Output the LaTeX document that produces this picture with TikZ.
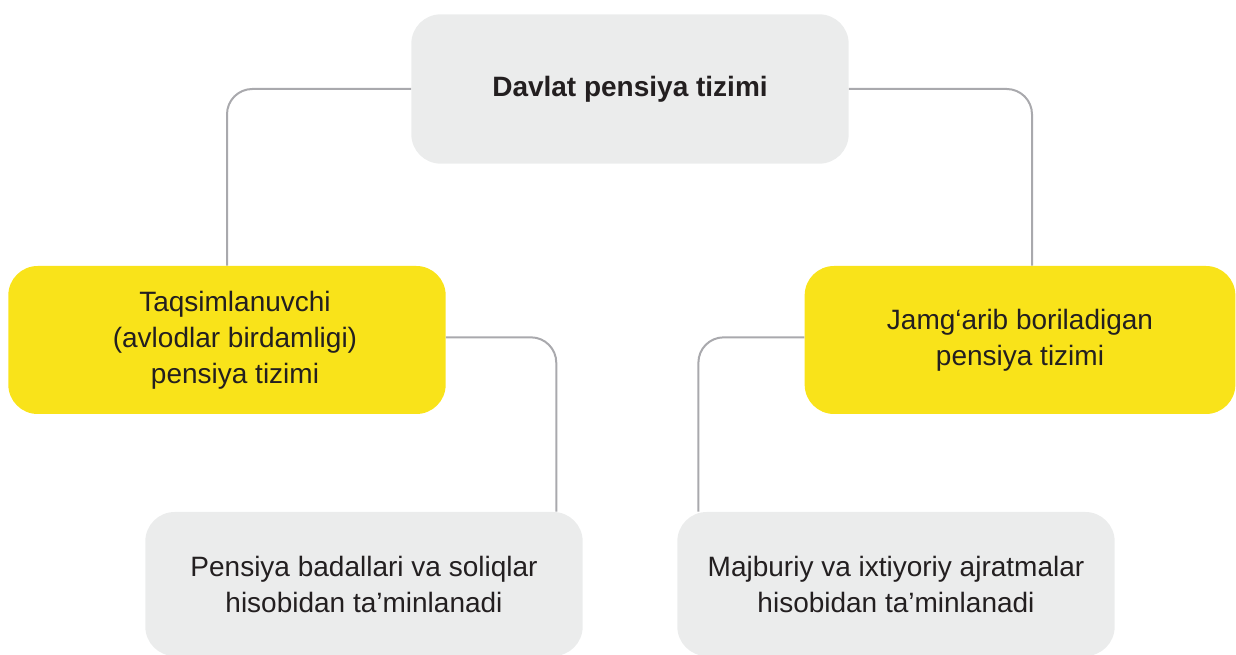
\documentclass[tikz,border=0pt]{standalone}
\usepackage{fontspec}
\setmainfont{Liberation Sans}
\definecolor{boxgray}{HTML}{EBECEC}
\definecolor{boxyellow}{HTML}{F9E31A}
\definecolor{linegray}{HTML}{A9A9AD}
\definecolor{inkblack}{HTML}{231F20}
\tikzstyle{every node}=[rounded corners=22pt, align=center, inner sep=0pt, text=inkblack, font={\fontsize{21}{27}\selectfont}]
\tikzstyle{greybox}=[fill=boxgray, minimum width=328pt, minimum height=108pt]
\tikzstyle{yellowbox}=[fill=boxyellow, minimum width=328pt, minimum height=111pt]
\tikzstyle{link}=[draw=linegray, line width=1.5pt, rounded corners=19pt]

\begin{document}
\begin{tikzpicture}[x=0.75pt, y=-0.75pt]
    \useasboundingbox (0,0) rectangle (1236,655);
    \node [greybox, minimum height=112pt] (davlat) at (630,89) {\raisebox{-4pt}{\bfseries Davlat pensiya tizimi}};
    \node [yellowbox] (taqsim) at (227,340) {\hspace*{12pt}Taqsimlanuvchi\\\hspace*{12pt}(avlodlar birdamligi)\\\hspace*{12pt}pensiya tizimi};
    \node [yellowbox, minimum width=323pt] (jamgarib) at (1020,340) {Jamg‘arib boriladigan\\pensiya tizimi};
    \node [greybox] (badal) at (364,584) {Pensiya badallari va soliqlar\\hisobidan ta’minlanadi};
    \node [greybox] (ajratma) at (896,584) {Majburiy va ixtiyoriy ajratmalar\\hisobidan ta’minlanadi};

    \draw [link] (davlat.west) -| (taqsim.north);
    \draw [link] (davlat.east) -| ([xshift=9pt]jamgarib.north);
    \draw [link] ([yshift=2pt]taqsim.east) -| ([xshift=-20pt]badal.north east);
    \draw [link] ([yshift=2pt]jamgarib.west) -| ([xshift=16pt]ajratma.north west);
\end{tikzpicture}
\end{document}
